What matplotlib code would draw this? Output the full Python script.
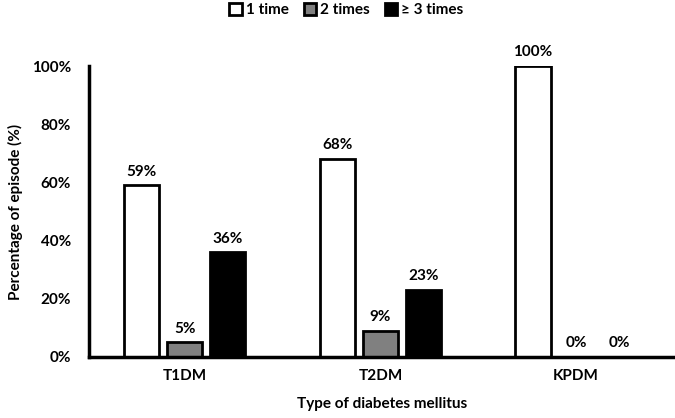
import matplotlib.pyplot as plt
import numpy as np

plt.rcParams['font.family'] = ['Lato', 'DejaVu Sans']
plt.rcParams['font.weight'] = 'bold'

categories = ['T1DM', 'T2DM', 'KPDM']
series_names = ['1 time', '2 times', '\u2265 3 times']
values = [
    [59, 68, 100],   # 1 time
    [5, 9, 0],       # 2 times
    [36, 23, 0],     # >= 3 times
]
colors = ['white', '#808080', 'black']

fig = plt.figure(figsize=(6.75, 4.18), dpi=100)
ax = fig.add_axes([89 / 675, 1 - 357 / 418, 1 - 89 / 675, (357 - 66) / 418])

x = np.arange(len(categories))
width = 0.18
offset = 0.22
for i, (name, vals) in enumerate(zip(series_names, values)):
    pos = x + (i - 1) * offset
    ax.bar(pos, vals, width, color=colors[i], edgecolor='black',
           linewidth=2, label=name)
    for xp, v in zip(pos, vals):
        ax.text(xp, v + 2.3, f'{v}%', ha='center', va='bottom',
                fontsize=11, fontweight='bold')

ax.set_xlim(-0.49, 2.506)
ax.set_ylim(0, 100)
ax.set_yticks(range(0, 101, 20))
ax.set_yticklabels([f'{t}%' for t in range(0, 101, 20)])
ax.set_xticks(x)
ax.set_xticklabels(categories)
ax.tick_params(length=0, labelsize=11)
ax.tick_params(axis='x', pad=9)
ax.tick_params(axis='y', pad=13)
for t in ax.get_xticklabels() + ax.get_yticklabels():
    t.set_fontweight('bold')

for s in ['top', 'right']:
    ax.spines[s].set_visible(False)
ax.spines['left'].set_linewidth(2.5)
ax.spines['bottom'].set_linewidth(2.5)

ax.set_xlabel('Type of diabetes mellitus', fontsize=11, fontweight='bold', labelpad=10)
ax.set_ylabel('Percentage of episode (%)', fontsize=11, fontweight='bold', labelpad=6)

fig.legend(loc='upper center', bbox_to_anchor=(0.513, 1.025), ncol=3, frameon=False,
           handlelength=0.8, handleheight=0.8, handletextpad=0.25,
           columnspacing=1.0, prop={'weight': 'bold', 'size': 11})

fig.savefig('out.png', dpi=100)
